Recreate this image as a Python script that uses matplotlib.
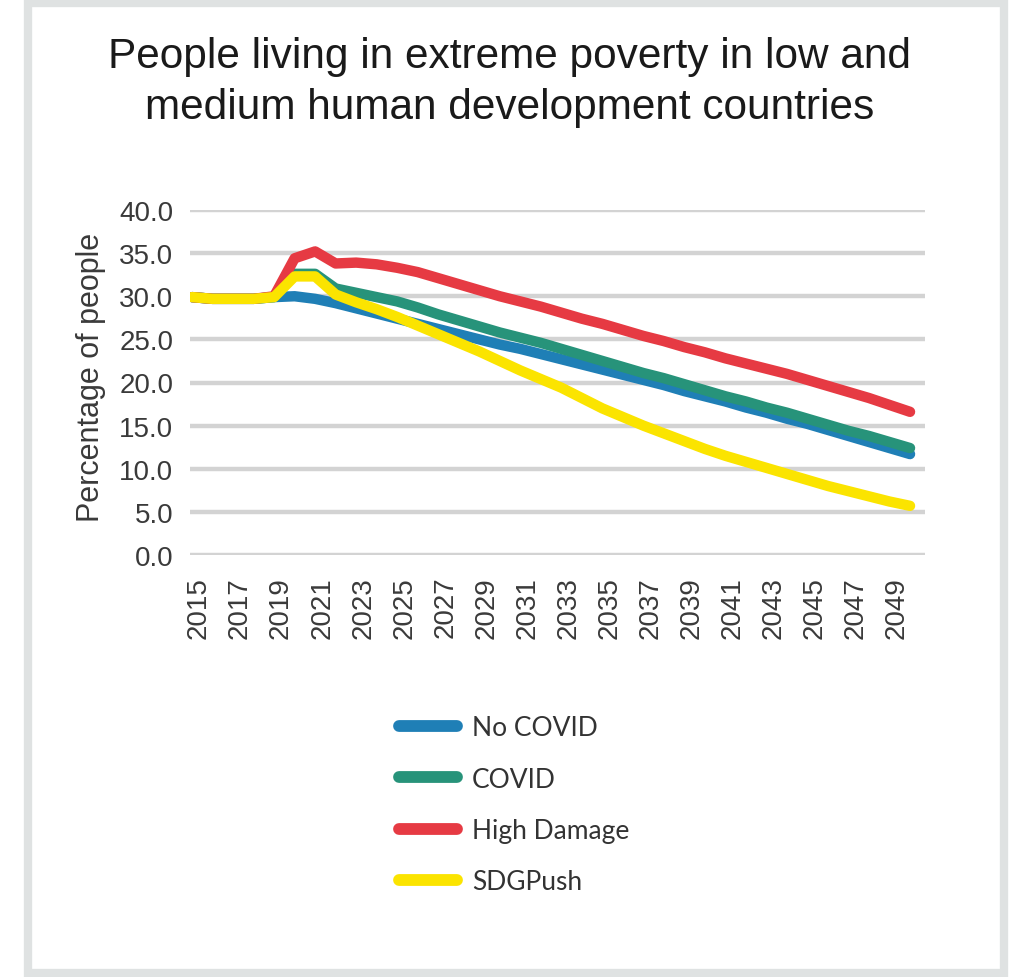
import matplotlib
matplotlib.use("Agg")
import matplotlib.pyplot as plt
import matplotlib.transforms as mtransforms
from matplotlib.patches import Rectangle
from matplotlib.lines import Line2D

years = list(range(2015, 2051))

no_covid = [29.9, 29.7, 29.7, 29.7, 29.9, 30.0, 29.7, 29.2, 28.6, 28.0,
            27.4, 26.8, 26.2, 25.6, 25.0, 24.4, 23.9, 23.3, 22.7, 22.1,
            21.5, 20.9, 20.3, 19.7, 19.0, 18.4, 17.8, 17.1, 16.5, 15.8,
            15.2, 14.5, 13.8, 13.1, 12.4, 11.7]
covid = [29.9, 29.7, 29.7, 29.7, 29.9, 32.6, 32.6, 30.9, 30.4, 29.9,
         29.4, 28.7, 27.9, 27.2, 26.5, 25.8, 25.2, 24.6, 23.9, 23.2,
         22.5, 21.8, 21.1, 20.5, 19.8, 19.1, 18.4, 17.8, 17.1, 16.5,
         15.8, 15.1, 14.4, 13.8, 13.1, 12.4]
high_damage = [29.9, 29.7, 29.7, 29.7, 30.0, 34.4, 35.2, 33.8, 33.9, 33.7,
               33.3, 32.8, 32.1, 31.4, 30.7, 30.0, 29.4, 28.8, 28.1, 27.4,
               26.8, 26.1, 25.4, 24.8, 24.1, 23.5, 22.8, 22.2, 21.6, 21.0,
               20.3, 19.6, 18.9, 18.2, 17.4, 16.6]
sdg_push = [29.9, 29.7, 29.7, 29.7, 29.9, 32.3, 32.3, 30.2, 29.3, 28.5,
            27.6, 26.6, 25.6, 24.6, 23.6, 22.5, 21.4, 20.4, 19.4, 18.2,
            17.0, 16.0, 15.0, 14.1, 13.2, 12.3, 11.5, 10.8, 10.1, 9.4,
            8.7, 8.0, 7.4, 6.8, 6.2, 5.7]

series_names = ["No COVID", "COVID", "High Damage", "SDGPush"]
series_values = [no_covid, covid, high_damage, sdg_push]
series_colors = ["#1f7fb6", "#27937a", "#e63a43", "#fbe400"]

x_tick_years = list(range(2015, 2050, 2))
y_ticks = [0, 5, 10, 15, 20, 25, 30, 35, 40]

W, H = 1012, 978
fig = plt.figure(figsize=(W / 100, H / 100), dpi=100)
fig.patch.set_facecolor("white")

# outer frame
frame = Rectangle((28 / W, 4 / H), (1004 - 28) / W, (974 - 4) / H,
                  transform=fig.transFigure, fill=False,
                  edgecolor="#dfe2e2", linewidth=6, zorder=0)
fig.patches.append(frame)

fig.text(510 / W, 1 - 57 / H, "People living in extreme poverty in low and",
         ha="center", va="center", fontsize=30.5, family="Liberation Sans",
         color="#1a1a1a")
fig.text(510 / W, 1 - 108 / H, "medium human development countries",
         ha="center", va="center", fontsize=30.5, family="Liberation Sans",
         color="#1a1a1a")

ax = fig.add_axes([190 / W, 1 - 556 / H, (925 - 190) / W, (556 - 211) / H])
ax.set_xlim(2014.9, 2050.73)
ax.set_ylim(0, 40)

for yv in y_ticks:
    ax.axhline(yv, color="#d3d3d3", linewidth=3.2, zorder=1)

for name, vals, col in zip(series_names, series_values, series_colors):
    ax.plot(years, vals, color=col, linewidth=7.5, solid_capstyle="round",
            solid_joinstyle="round", label=name, zorder=3)

for s in ax.spines.values():
    s.set_visible(False)

ax.set_yticks(y_ticks)
ax.set_yticklabels([f"{v:.1f}" for v in y_ticks], fontsize=20,
                   family="Liberation Sans", color="#3a3a3a")
ax.set_xticks(x_tick_years)
ax.set_xticklabels([str(y) for y in x_tick_years], rotation=90, fontsize=20,
                   family="Liberation Sans", color="#3a3a3a")
ax.tick_params(axis="both", length=0)
ax.tick_params(axis="y", pad=12)
ax.tick_params(axis="x", pad=15)
offset = mtransforms.ScaledTranslation(7 / 100, 0, fig.dpi_scale_trans)
for lbl in ax.get_xticklabels():
    lbl.set_transform(lbl.get_transform() + offset)

fig.text(91 / W, 1 - 377 / H, "Percentage of people", rotation=90,
         ha="center", va="center", fontsize=22, family="Liberation Sans",
         color="#3a3a3a")

handles = [Line2D([0], [0], color=c, linewidth=8.5, solid_capstyle="round")
           for c in series_colors]
leg = fig.legend(handles, series_names, loc="upper left",
                 bbox_to_anchor=(386 / W, 1 - 703 / H), frameon=False,
                 prop={"family": "Lato", "size": 19}, handlelength=2.2,
                 handletextpad=0.55, labelspacing=1.0, borderpad=0)
for t in leg.get_texts():
    t.set_color("#333333")

fig.savefig("out.png", dpi=100, facecolor="white")
